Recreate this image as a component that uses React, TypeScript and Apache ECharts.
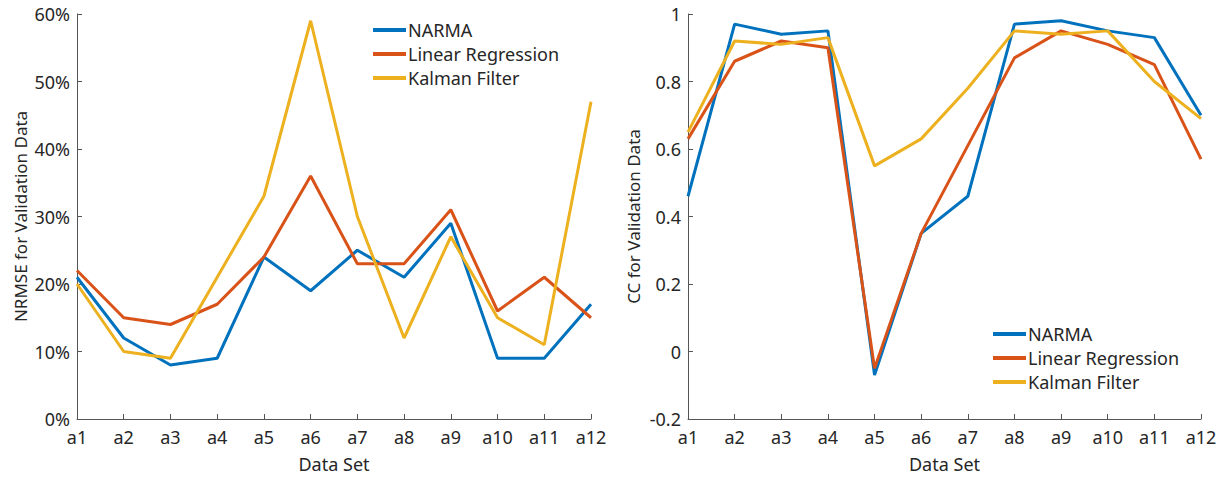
import React, { useEffect, useRef } from "react";
import * as echarts from "echarts";

const categories = ["a1", "a2", "a3", "a4", "a5", "a6", "a7", "a8", "a9", "a10", "a11", "a12"];
const seriesNames = ["NARMA", "Linear Regression", "Kalman Filter"];

// NRMSE (%)
const nrmseNarma = [21, 12, 8, 9, 24, 19, 25, 21, 29, 9, 9, 17];
const nrmseLinear = [22, 15, 14, 17, 24, 36, 23, 23, 31, 16, 21, 15];
const nrmseKalman = [20, 10, 9, 21, 33, 59, 30, 12, 27, 15, 11, 47];

// CC
const ccNarma = [0.46, 0.97, 0.94, 0.95, -0.07, 0.35, 0.46, 0.97, 0.98, 0.95, 0.93, 0.7];
const ccLinear = [0.63, 0.86, 0.92, 0.9, -0.05, 0.35, 0.61, 0.87, 0.95, 0.91, 0.85, 0.57];
const ccKalman = [0.65, 0.92, 0.91, 0.93, 0.55, 0.63, 0.78, 0.95, 0.94, 0.95, 0.8, 0.69];

const colors = ["#0072BD", "#D95319", "#EDB120"];
const FONT = "Noto Sans";

export default function App() {
  const ref = useRef<HTMLDivElement>(null);
  useEffect(() => {
    if (!ref.current) return;
    const chart = echarts.init(ref.current, undefined, { renderer: "svg" });
    const axisColor = "#555";
    const textColor = "#262626";
    const xAxisCommon = {
      type: "category",
      data: categories,
      boundaryGap: false,
      name: "Data Set",
      nameLocation: "middle",
      nameGap: 36,
      nameTextStyle: { fontSize: 18, color: textColor, fontFamily: FONT },
      axisLine: { onZero: false, lineStyle: { color: axisColor, width: 1 } },
      axisTick: { inside: true, length: 5, alignWithLabel: true, lineStyle: { color: axisColor } },
      axisLabel: { fontSize: 18, color: textColor, fontFamily: FONT, margin: 9, interval: 0 },
      splitLine: { show: false },
    };
    const yAxisCommon = {
      type: "value",
      nameLocation: "middle",
      nameTextStyle: { fontSize: 17, color: textColor, fontFamily: FONT },
      axisLine: { show: true, onZero: false, lineStyle: { color: axisColor, width: 1 } },
      axisTick: { show: true, inside: true, length: 5, lineStyle: { color: axisColor } },
      axisLabel: { fontSize: 18, color: textColor, fontFamily: FONT, margin: 7 },
      splitLine: { show: false },
    };
    const mk = (name: string, data: number[], i: number, idx: number) => ({
      name,
      type: "line",
      data,
      xAxisIndex: idx,
      yAxisIndex: idx,
      symbol: "none",
      lineStyle: { width: 3, color: colors[i] },
      itemStyle: { color: colors[i] },
    });
    const legendCommon = {
      orient: "vertical",
      icon: "rect",
      itemWidth: 33,
      itemHeight: 4,
      itemGap: 6,
      data: seriesNames,
      textStyle: { fontSize: 18, color: textColor, fontFamily: FONT, padding: [0, 0, 0, -3] },
    };
    chart.setOption({
      animation: false,
      color: colors,
      textStyle: { fontFamily: FONT },
      legend: [
        { ...legendCommon, left: 368, top: 16 },
        { ...legendCommon, left: 988, top: 320 },
      ],
      grid: [
        { left: 77, right: 633, top: 14, bottom: 61, containLabel: false },
        { left: 688, right: 23, top: 14, bottom: 61, containLabel: false },
      ],
      xAxis: [
        { ...xAxisCommon, gridIndex: 0 },
        { ...xAxisCommon, gridIndex: 1 },
      ],
      yAxis: [
        {
          ...yAxisCommon,
          gridIndex: 0,
          min: 0,
          max: 60,
          interval: 10,
          name: "NRMSE for Validation Data",
          nameGap: 48,
          axisLabel: { ...yAxisCommon.axisLabel, formatter: "{value}%" },
        },
        {
          ...yAxisCommon,
          gridIndex: 1,
          min: -0.2,
          max: 1,
          interval: 0.2,
          name: "CC for Validation Data",
          nameGap: 46,
          axisLabel: {
            ...yAxisCommon.axisLabel,
            formatter: (v: number) => String(Math.round(v * 10) / 10),
          },
        },
      ],
      series: [
        mk(seriesNames[0], nrmseNarma, 0, 0),
        mk(seriesNames[1], nrmseLinear, 1, 0),
        mk(seriesNames[2], nrmseKalman, 2, 0),
        mk(seriesNames[0], ccNarma, 0, 1),
        mk(seriesNames[1], ccLinear, 1, 1),
        mk(seriesNames[2], ccKalman, 2, 1),
      ],
    });
    return () => chart.dispose();
  }, []);
  return <div ref={ref} style={{ width: 1224, height: 480, margin: -8 }} />;
}
